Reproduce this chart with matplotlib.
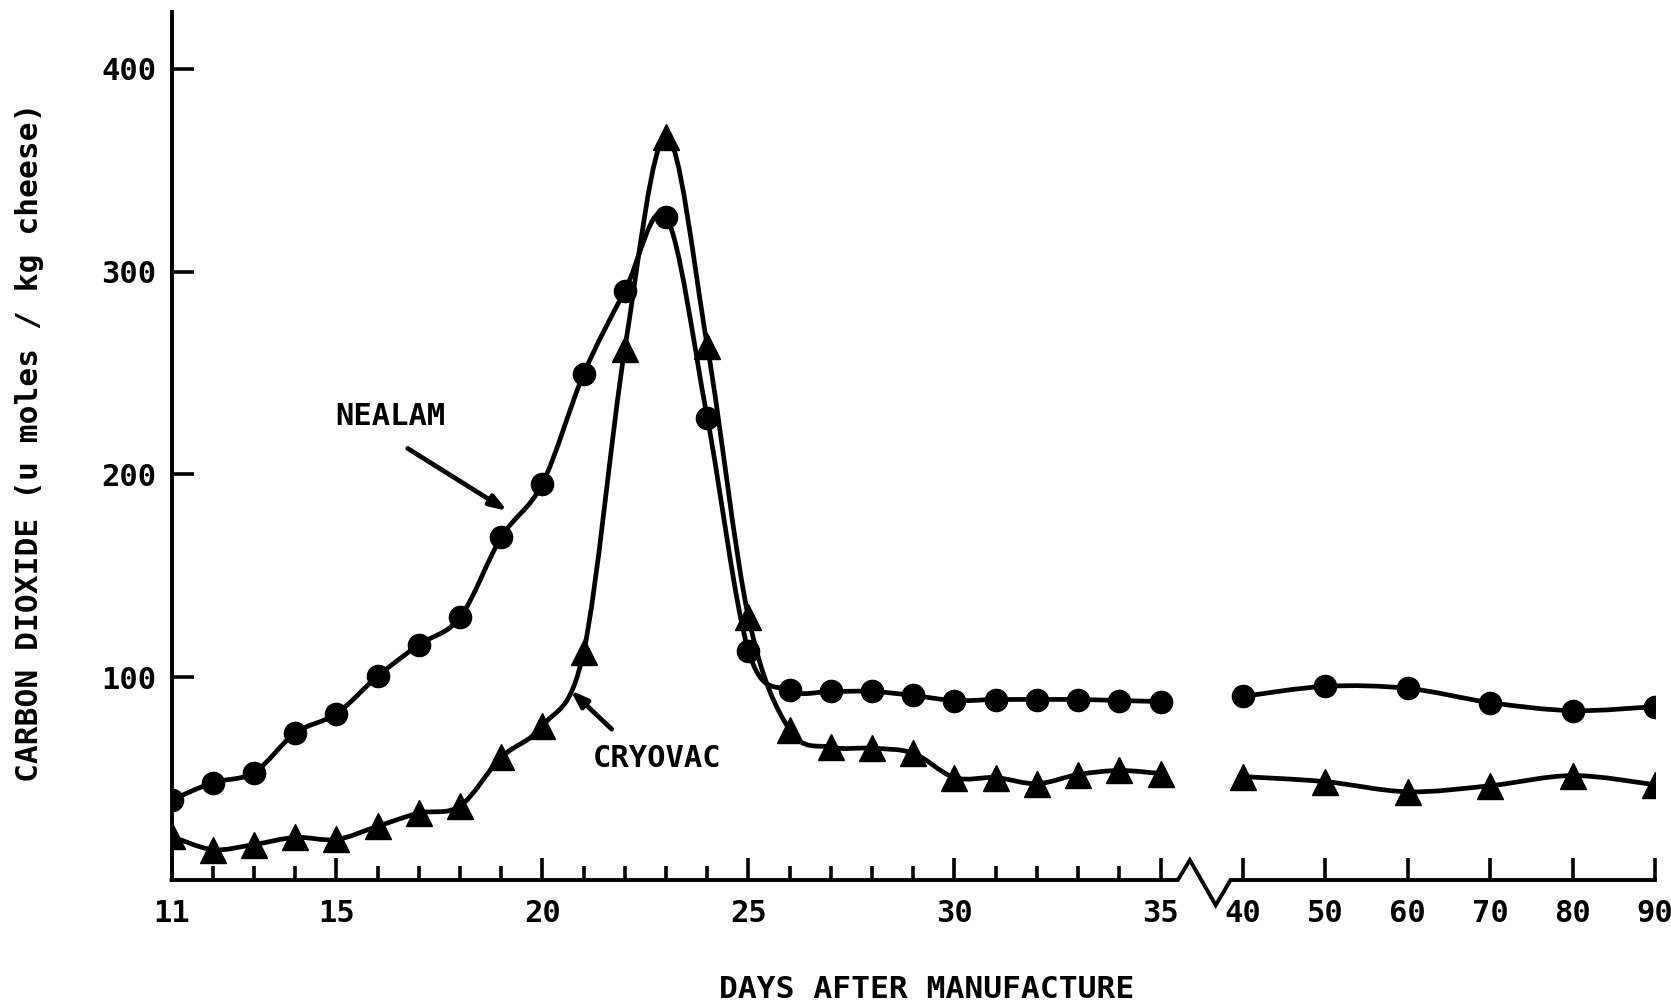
import matplotlib
matplotlib.use("Agg")
import matplotlib.pyplot as plt
import numpy as np
from matplotlib.patches import PathPatch
from matplotlib.path import Path
from matplotlib.transforms import blended_transform_factory

# values (days after manufacture, umol CO2 / kg cheese)
days = [11, 12, 13, 14, 15, 16, 17, 18, 19, 20, 21, 22, 23, 24, 25, 26, 27, 28,
        29, 30, 31, 32, 33, 34, 35, 40, 50, 60, 70, 80, 90]
nealam = [39.5, 48, 53, 72.5, 82, 100.5, 116, 129.5, 169, 195.5, 249.5, 290.5,
          327, 228, 113, 93.5, 93, 93, 91, 88.5, 89, 89, 89, 88.5, 88,
          90.5, 95.5, 94.5, 87.5, 83.5, 85.5]
cryovac = [21.5, 15, 17.5, 21, 20, 26.5, 33, 36.5, 60.5, 76, 112.5, 262,
           366.5, 263.5, 129.5, 74, 65.5, 65, 62.5, 50.5, 50.5, 47.5, 52, 54, 52.5,
           51, 48.5, 43.5, 46.5, 51.5, 47]

major_days = [11, 15, 20, 25, 30, 35, 40, 50, 60, 70, 80, 90]
minor_days = [d for d in range(12, 35) if d not in major_days]
y_ticks = [100, 200, 300, 400]


def forward(d):
    """Broken day axis: 1 unit per day up to 35, compressed after the break."""
    d = np.asarray(d, dtype=float)
    return np.where(d <= 35, d - 11,
                    np.where(d <= 40, 24 + (d - 35) * 0.4, 26 + (d - 40) * 0.2))


def inverse(u):
    u = np.asarray(u, dtype=float)
    return np.where(u <= 24, u + 11,
                    np.where(u <= 26, 35 + (u - 24) / 0.4, 40 + (u - 26) / 0.2))


def smooth_path(xs, ys):
    """Catmull-Rom curve through the points, as cubic Bezier segments."""
    pts = np.column_stack([xs, ys]).astype(float)
    n = len(pts)
    verts = [pts[0]]
    codes = [Path.MOVETO]
    for i in range(n - 1):
        p0 = pts[max(i - 1, 0)]
        p1 = pts[i]
        p2 = pts[i + 1]
        p3 = pts[min(i + 2, n - 1)]
        verts += [p1 + (p2 - p0) / 6, p2 - (p3 - p1) / 6, p2]
        codes += [Path.CURVE4] * 3
    return Path(verts, codes)


plt.rcParams["font.family"] = ["DejaVu Sans Mono", "DejaVu Sans"]
plt.rcParams["font.weight"] = "bold"

fig = plt.figure(figsize=(16.71, 10.07), dpi=100)
ax = fig.add_axes([0.1027, 0.1261, 0.8877, 0.862])
ax.set_xscale("function", functions=(forward, inverse))
ax.set_xlim(11, 90)
ax.set_ylim(0, 428)

day_arr = np.array(days)
for values, marker, size in [(nealam, "o", 16), (cryovac, "^", 19)]:
    val_arr = np.array(values)
    for section in (day_arr <= 35, day_arr >= 40):
        ax.add_patch(PathPatch(smooth_path(day_arr[section], val_arr[section]),
                               facecolor="none", edgecolor="black", lw=3.4, zorder=2))
    ax.plot(days, values, linestyle="none", marker=marker, markersize=size,
            color="black", zorder=3)

# axes and ticks
for side in ("top", "right", "bottom"):
    ax.spines[side].set_visible(False)
ax.spines["left"].set_linewidth(2.8)

ax.set_xticks(major_days)
ax.set_xticklabels([str(d) for d in major_days])
ax.set_xticks(minor_days, minor=True)
ax.set_yticks(y_ticks)
ax.set_yticklabels([str(v) for v in y_ticks])
ax.tick_params(axis="x", which="major", direction="in", length=16, width=2.6,
               pad=14, labelsize=22)
ax.tick_params(axis="x", which="minor", direction="in", length=10, width=2.6)
ax.tick_params(axis="y", direction="in", length=16, width=2.6, pad=11, labelsize=22)

# bottom axis line with the zig-zag break between 35 and 40
base = blended_transform_factory(ax.transData, ax.transAxes)
ax.plot([11, 36.05, 36.78, 38.35, 39.25, 90], [0, 0, 0.023, -0.029, 0, 0],
        color="black", lw=2.8, transform=base, clip_on=False,
        solid_joinstyle="miter", zorder=4)

# labels
arrow_style = dict(arrowstyle="-|>,head_length=1.0,head_width=0.35",
                   lw=3.4, color="black", shrinkA=0, shrinkB=0)
ax.text(16.3, 228.6, "NEALAM", fontsize=22, ha="center", va="center")
ax.annotate("", xy=(19.15, 182), xytext=(16.73, 212.8), arrowprops=arrow_style)
ax.text(22.77, 60, "CRYOVAC", fontsize=22, ha="center", va="center")
ax.annotate("", xy=(20.68, 93.6), xytext=(21.68, 74.4), arrowprops=arrow_style)

fig.text(30 / 1671, 1 - 442 / 1007, "CARBON DIOXIDE (u moles / kg cheese)",
         rotation=90, ha="center", va="center", fontsize=22.5)
fig.text(927 / 1671, 1 - 989 / 1007, "DAYS AFTER MANUFACTURE",
         ha="center", va="center", fontsize=22.5)

fig.savefig("out.png", dpi=100)
